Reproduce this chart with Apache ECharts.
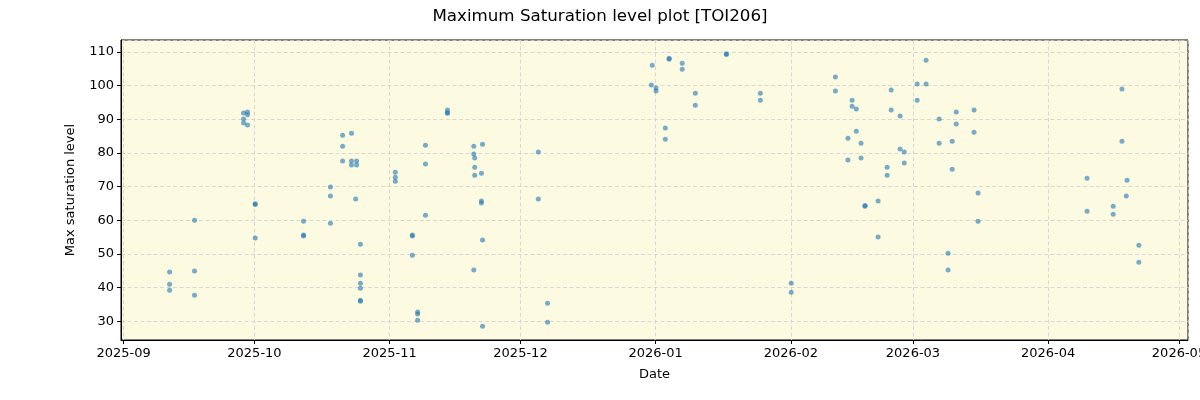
<!DOCTYPE html>
<html>
<head>
    <meta charset="UTF-8">
    <title>Maximum Saturation level plot [TOI206]</title>
    <script src="https://cdn.jsdelivr.net/npm/echarts/dist/echarts.min.js"></script>
    <style>
        body { margin: 0; background: #fff; }
        #chart { width: 1200px; height: 400px; }
    </style>
</head>
<body>
    <div id="chart"></div>
    <script>
        const obsDates = [
            '2025-09-11 13:00', '2025-09-11 13:00', '2025-09-11 13:00',
            '2025-09-17 06:00', '2025-09-17 06:00', '2025-09-17 06:00',
            '2025-09-28 12:00', '2025-09-28 12:00', '2025-09-28 12:00',
            '2025-09-29 10:00', '2025-09-29 10:00', '2025-09-29 10:00',
            '2025-10-01 04:00', '2025-10-01 04:00', '2025-10-01 04:00',
            '2025-10-12 06:00', '2025-10-12 06:00', '2025-10-12 06:00',
            '2025-10-18 10:00', '2025-10-18 10:00', '2025-10-18 10:00',
            '2025-10-21 05:00', '2025-10-21 05:00', '2025-10-21 05:00',
            '2025-10-23 06:00', '2025-10-23 06:00', '2025-10-23 06:00',
            '2025-10-24 10:00', '2025-10-24 10:00', '2025-10-24 05:00',
            '2025-10-25 07:00', '2025-10-25 07:00', '2025-10-25 07:00',
            '2025-10-25 07:00', '2025-10-25 07:00', '2025-10-25 07:00',
            '2025-11-02 07:00', '2025-11-02 07:00', '2025-11-02 07:00',
            '2025-11-06 05:00', '2025-11-06 05:00', '2025-11-06 05:00',
            '2025-11-07 10:00', '2025-11-07 10:00', '2025-11-07 10:00',
            '2025-11-09 05:00', '2025-11-09 05:00', '2025-11-09 05:00',
            '2025-11-14 06:00', '2025-11-14 06:00', '2025-11-14 06:00',
            '2025-11-20 07:00', '2025-11-20 07:00', '2025-11-20 07:00',
            '2025-11-20 12:00', '2025-11-20 12:00', '2025-11-20 12:00',
            '2025-11-22 07:00', '2025-11-22 07:00', '2025-11-22 07:00',
            '2025-11-22 01:00', '2025-11-22 01:00', '2025-11-22 01:00',
            '2025-12-05 02:00', '2025-12-05 02:00',
            '2025-12-07 05:00', '2025-12-07 05:00',
            '2025-12-31 05:00', '2025-12-31 00:00',
            '2026-01-01 02:00', '2026-01-01 02:00',
            '2026-01-03 05:00', '2026-01-03 05:00',
            '2026-01-04 02:00', '2026-01-04 02:00',
            '2026-01-07 02:00', '2026-01-07 02:00',
            '2026-01-10 02:00', '2026-01-10 02:00',
            '2026-01-17 05:00', '2026-01-17 05:00',
            '2026-01-25 00:00', '2026-01-25 00:00',
            '2026-02-01 02:00', '2026-02-01 02:00',
            '2026-02-11 05:00', '2026-02-11 05:00',
            '2026-02-14 02:00', '2026-02-14 02:00',
            '2026-02-15 01:00', '2026-02-15 01:00',
            '2026-02-16 00:00', '2026-02-16 00:00',
            '2026-02-17 02:00', '2026-02-17 02:00',
            '2026-02-18 00:00', '2026-02-18 00:00',
            '2026-02-21 00:00', '2026-02-21 00:00',
            '2026-02-23 02:00', '2026-02-23 02:00',
            '2026-02-24 00:00', '2026-02-24 00:00',
            '2026-02-26 01:00', '2026-02-26 01:00',
            '2026-02-27 00:00', '2026-02-27 00:00',
            '2026-03-01 23:00', '2026-03-01 23:00',
            '2026-03-04 00:00', '2026-03-04 00:00',
            '2026-03-07 00:00', '2026-03-07 00:00',
            '2026-03-09 01:00', '2026-03-09 01:00',
            '2026-03-10 00:00', '2026-03-10 00:00',
            '2026-03-10 22:00', '2026-03-10 22:00',
            '2026-03-15 00:00', '2026-03-15 00:00',
            '2026-03-15 22:00', '2026-03-15 22:00',
            '2026-04-09 22:00', '2026-04-09 22:00',
            '2026-04-15 22:00', '2026-04-15 22:00',
            '2026-04-17 22:00', '2026-04-17 22:00',
            '2026-04-19 02:00', '2026-04-18 22:00',
            '2026-04-21 19:00', '2026-04-21 19:00'
        ];
        const maxSat = [
            44.6, 41.0, 39.2,
            60.0, 44.9, 37.7,
            91.9, 90.1, 88.9,
            92.2, 91.4, 88.3,
            64.9, 64.7, 54.7,
            59.7, 55.6, 55.3,
            69.9, 67.2, 59.1,
            85.3, 82.0, 77.6,
            85.9, 77.6, 76.4,
            77.6, 76.4, 66.3,
            52.9, 43.7, 41.3,
            39.8, 36.2, 35.9,
            74.3, 72.8, 71.6,
            55.6, 55.3, 49.6,
            32.7, 32.1, 30.3,
            82.3, 76.7, 61.5,
            92.8, 92.0, 91.8,
            82.0, 79.7, 45.2,
            78.5, 75.8, 73.4,
            82.6, 54.1, 28.5,
            74.0, 65.7, 65.1,
            80.3, 66.3,
            35.3, 29.7,
            106.1, 100.2,
            99.3, 98.4,
            87.4, 84.1,
            108.2, 107.9,
            106.7, 104.9,
            97.8, 94.2,
            109.5, 109.3,
            97.8, 95.7,
            41.3, 38.6,
            102.6, 98.4,
            84.4, 77.9,
            95.7, 93.9,
            93.1, 86.5,
            82.9, 78.5,
            64.4, 64.2,
            65.7, 55.0,
            75.8, 73.4,
            98.7, 92.8,
            91.0, 81.2,
            80.3, 77.0,
            100.5, 95.7,
            107.6, 100.5,
            90.1, 82.9,
            50.2, 45.2,
            83.5, 75.2,
            92.2, 88.6,
            92.8, 86.2,
            68.1, 59.7,
            72.5, 62.7,
            64.2, 61.8,
            99.0, 83.5,
            71.9, 67.2,
            52.6, 47.5
        ];

        const xStart = '2025-08-31 09:30';
        const xEnd = '2026-05-03 01:30';
        const yMin = 24.4;
        const yMax = 113.6;

        const DAY = 24 * 3600 * 1000;
        const font = 'DejaVu Sans';
        const points = obsDates.map((d, i) => [d, maxSat[i]]);

        const chart = echarts.init(document.getElementById('chart'));
        chart.setOption({
            animation: false,
            textStyle: { fontFamily: font },
            title: {
                text: 'Maximum Saturation level plot [TOI206]',
                left: 'center',
                top: 3,
                textStyle: { fontFamily: font, fontSize: 16.7, fontWeight: 'normal', color: '#000' }
            },
            grid: {
                left: 121, right: 12, top: 40, bottom: 60,
                outerBoundsMode: 'none',
                containLabel: false,
                show: true,
                backgroundColor: '#fcfbe2',
                borderColor: '#000',
                borderWidth: 1
            },
            xAxis: {
                type: 'time',
                min: +echarts.time.parse(xStart),
                max: +echarts.time.parse(xEnd),
                splitNumber: 8,
                minInterval: 28 * DAY,
                maxInterval: 31 * DAY,
                name: 'Date',
                nameLocation: 'middle',
                nameGap: 28,
                nameTextStyle: { fontSize: 13, color: '#000' },
                axisLine: { show: true, lineStyle: { color: '#000' } },
                axisTick: { show: true, length: 4, lineStyle: { color: '#000' } },
                axisLabel: {
                    formatter: '{yyyy}-{MM}',
                    fontSize: 13,
                    color: '#000',
                    margin: 7,
                    hideOverlap: false
                },
                splitLine: { show: true, lineStyle: { color: '#cfcfcf', type: [4, 2.5], width: 0.8 } }
            },
            yAxis: {
                type: 'value',
                min: yMin,
                max: yMax,
                splitNumber: 8,
                name: 'Max saturation level',
                nameLocation: 'middle',
                nameGap: 44,
                nameTextStyle: { fontSize: 13, color: '#000' },
                axisLine: { show: true, lineStyle: { color: '#000' } },
                axisTick: { show: true, length: 4, lineStyle: { color: '#000' } },
                axisLabel: {
                    fontSize: 13,
                    color: '#000',
                    margin: 7,
                    showMinLabel: false,
                    showMaxLabel: false
                },
                splitLine: { show: true, lineStyle: { color: '#cfcfcf', type: [4, 2.5], width: 0.8 } }
            },
            series: [{
                type: 'scatter',
                data: points,
                symbolSize: 5,
                itemStyle: { color: '#1f77b4', opacity: 0.6 }
            }]
        });
    </script>
</body>
</html>
